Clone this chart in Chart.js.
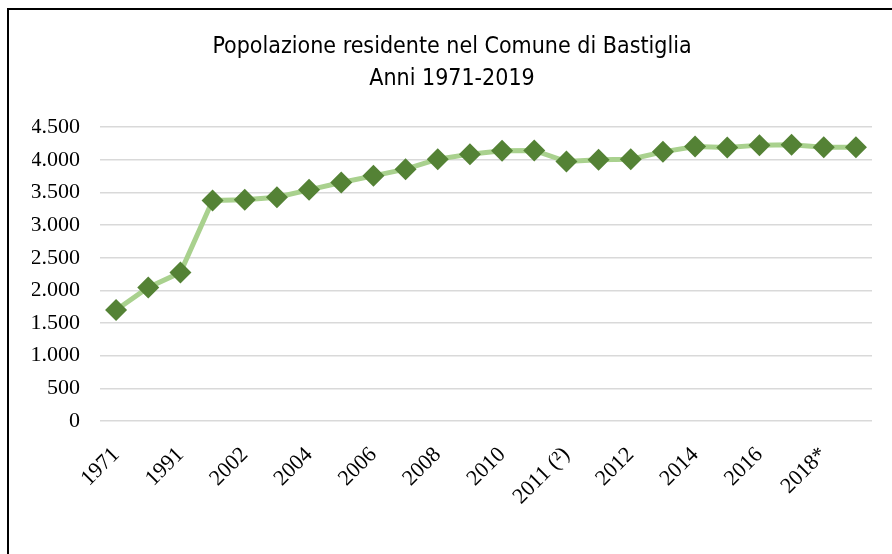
<!DOCTYPE html>
<html>
<head>
<meta charset="utf-8">
<script src="https://cdn.jsdelivr.net/npm/chart.js@4/dist/chart.umd.min.js"></script>
<style>
  html, body { margin: 0; padding: 0; background: #ffffff; }
  #wrap { position: relative; width: 892px; height: 554px; }
</style>
</head>
<body>
<div id="wrap"><canvas id="c" width="892" height="554"></canvas></div>
<script>
// ---- data ----
const titleLines = ['Popolazione residente nel Comune di Bastiglia', 'Anni 1971-2019'];
const categories = ['1971', '1981', '1991', '2001', '2002', '2003', '2004', '2005', '2006', '2007',
  '2008', '2009', '2010', '2011 (¹)', '2011 (²)', '2011 (³)', '2012', '2013', '2014', '2015',
  '2016', '2017', '2018*', '2019*'];
const population = [1700, 2045, 2272, 3376, 3386, 3427, 3539, 3651, 3754, 3856,
  4009, 4086, 4137, 4142, 3973, 3999, 4009, 4121, 4203, 4188,
  4224, 4229, 4193, 4193];
const yTicks = { min: 0, max: 4500, step: 500 };

function fmtIt(v) {
  return String(v).replace(/\B(?=(\d{3})+(?!\d))/g, '.');
}

const framePlugin = {
  id: 'frame',
  beforeDraw(chart) {
    const ctx = chart.ctx;
    ctx.save();
    ctx.fillStyle = '#ffffff';
    ctx.fillRect(0, 0, chart.width, chart.height);
    ctx.strokeStyle = '#000000';
    ctx.lineWidth = 2;
    ctx.beginPath();
    ctx.moveTo(8, chart.height + 2);
    ctx.lineTo(8, 9);
    ctx.lineTo(chart.width + 2, 9);
    ctx.stroke();
    ctx.restore();
  }
};

new Chart(document.getElementById('c'), {
  type: 'line',
  data: {
    labels: categories,
    datasets: [{
      label: 'Popolazione',
      data: population,
      borderColor: '#a9d18e',
      borderWidth: 5,
      backgroundColor: '#548235',
      pointStyle: 'rectRot',
      pointRadius: 11,
      pointHoverRadius: 11,
      pointBackgroundColor: '#548235',
      pointBorderColor: '#548235',
      pointBorderWidth: 0,
      tension: 0,
      fill: false
    }]
  },
  options: {
    responsive: false,
    animation: false,
    devicePixelRatio: 1,
    layout: { padding: { left: 32, right: 20, top: 0, bottom: 0 } },
    plugins: {
      legend: { display: false },
      tooltip: { enabled: false },
      title: {
        display: true,
        text: titleLines,
        color: '#000000',
        font: { family: '"Liberation Sans Narrow", "DejaVu Sans Condensed", "Liberation Sans", sans-serif', size: 23, weight: 'normal', lineHeight: 1.35 },
        padding: { top: 32, bottom: 33 }
      }
    },
    scales: {
      x: {
        offset: true,
        grid: { display: false, drawTicks: false },
        border: { display: false },
        afterFit(scale) {
          scale.height = 133;
          scale.paddingLeft = 0;
          scale.paddingRight = 0;
        },
        ticks: {
          autoSkip: false,
          maxRotation: 45,
          minRotation: 45,
          padding: 21,
          color: '#000000',
          font: { family: '"Liberation Serif", "Times New Roman", serif', size: 22 },
          callback(value, index) {
            return index % 2 === 0 ? categories[index] : '';
          }
        }
      },
      y: {
        min: yTicks.min,
        max: yTicks.max,
        grid: { color: '#d9d9d9', lineWidth: 1.5, drawTicks: false },
        border: { display: false },
        afterFit(scale) { scale.width = 68; },
        ticks: {
          stepSize: yTicks.step,
          padding: 20,
          color: '#000000',
          font: { family: '"Liberation Serif", "Times New Roman", serif', size: 22 },
          callback(value) { return fmtIt(value); }
        }
      }
    }
  },
  plugins: [framePlugin]
});
</script>
</body>
</html>
